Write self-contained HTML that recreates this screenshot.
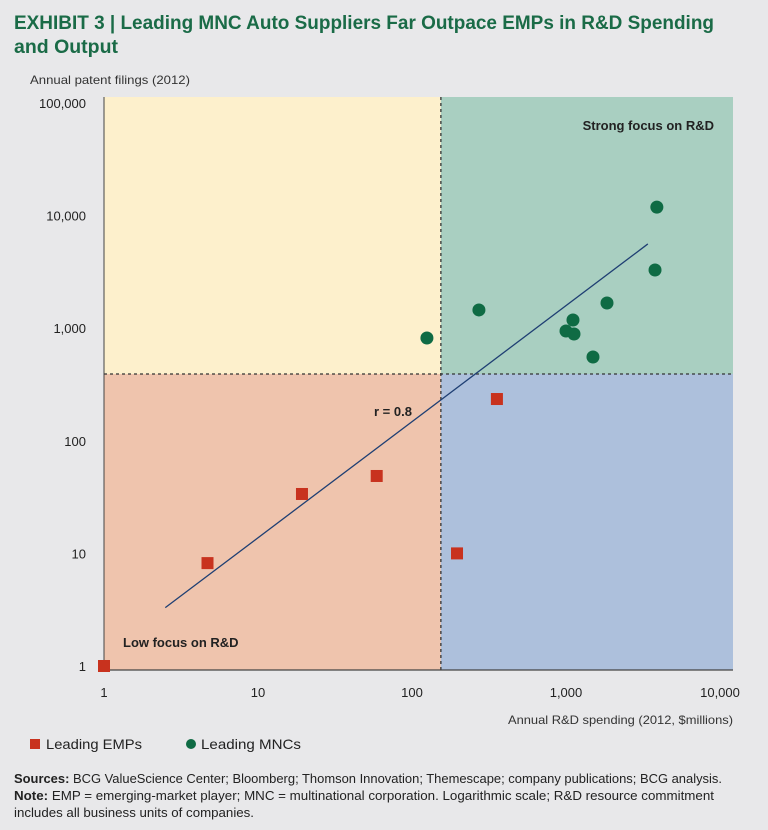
<!DOCTYPE html>
<html><head><meta charset="utf-8"><style>
html,body{margin:0;padding:0;background:#e8e8ea;}
svg{display:block;font-family:"Liberation Sans",sans-serif;}
</style></head><body>
<svg id="chart" width="768" height="830" viewBox="0 0 768 830">
<rect width="768" height="830" fill="#e8e8ea"/>
<text x="14" y="29" font-size="19" font-weight="bold" fill="#1a6b47" textLength="700" lengthAdjust="spacingAndGlyphs">EXHIBIT 3 | Leading MNC Auto Suppliers Far Outpace EMPs in R&amp;D Spending</text>
<text x="14" y="53" font-size="19" font-weight="bold" fill="#1a6b47" textLength="104" lengthAdjust="spacingAndGlyphs">and Output</text>
<text x="30" y="84" font-size="12" fill="#333" textLength="160" lengthAdjust="spacingAndGlyphs">Annual patent filings (2012)</text>
<text x="733" y="724" font-size="12" fill="#333" text-anchor="end" textLength="225" lengthAdjust="spacingAndGlyphs">Annual R&amp;D spending (2012, $millions)</text>
<g id="plot"></g>
<rect x="30" y="739" width="10" height="10" fill="#c8321e"/>
<text x="46" y="749" font-size="14" fill="#222" textLength="96" lengthAdjust="spacingAndGlyphs">Leading EMPs</text>
<circle cx="191" cy="744" r="5" fill="#0f6b44"/>
<text x="201" y="749" font-size="14" fill="#222" textLength="100" lengthAdjust="spacingAndGlyphs">Leading MNCs</text>
<text x="14" y="783" font-size="12.5" fill="#222" textLength="708" lengthAdjust="spacingAndGlyphs"><tspan font-weight="bold">Sources:</tspan> BCG ValueScience Center; Bloomberg; Thomson Innovation; Themescape; company publications; BCG analysis.</text>
<text x="14" y="800" font-size="12.5" fill="#222" textLength="700" lengthAdjust="spacingAndGlyphs"><tspan font-weight="bold">Note:</tspan> EMP = emerging-market player; MNC = multinational corporation. Logarithmic scale; R&amp;D resource commitment</text>
<text x="14" y="817" font-size="12.5" fill="#222" textLength="240" lengthAdjust="spacingAndGlyphs">includes all business units of companies.</text>
</svg>
<script>
const xTicks = [1, 10, 100, 1000, 10000];
const xTickLabels = ["1", "10", "100", "1,000", "10,000"];
const yTicks = [1, 10, 100, 1000, 10000, 100000];
const yTickLabels = ["1", "10", "100", "1,000", "10,000", "100,000"];
const empSpend = [1, 4.7, 19.3, 59, 196, 356];
const empPatents = [1, 8.2, 33.7, 48.7, 10, 235];
const mncSpend = [125, 272, 1000, 1110, 1127, 1497, 1846, 3785, 3890];
const mncPatents = [818, 1452, 944, 1183, 888, 555, 1675, 3289, 11900];
const trendX = [2.5, 3400];
const trendY = [3.3, 5600];
const xDivider = 154;
const yDivider = 392;

const NS = "http://www.w3.org/2000/svg";
const L = 104, R = 720, T = 103, B = 666, PR = 733, PT = 97, PB = 670;
function xs(v){ return L + Math.log10(v) / 4 * (R - L); }
function ys(v){ return B - Math.log10(v) / 5 * (B - T); }
const g = document.getElementById("plot");
function mk(tag, attrs){ const e = document.createElementNS(NS, tag); for (const k in attrs) e.setAttribute(k, attrs[k]); g.appendChild(e); return e; }

const xd = xs(xDivider), yd = ys(yDivider);
let q;
q = mk("rect", {x: L, y: PT, width: xd - L, height: yd - PT, fill: "#fdf0cc"});


q = mk("rect", {x: xd, y: PT, width: PR - xd, height: yd - PT, fill: "#a9cfc1"});


q = mk("rect", {x: L, y: yd, width: xd - L, height: PB - yd, fill: "#efc4ad"});


q = mk("rect", {x: xd, y: yd, width: PR - xd, height: PB - yd, fill: "#adc0dc"});



q = mk("line", {x1: xd, y1: PT, x2: xd, y2: PB, stroke: "#333", "stroke-width": 1.3, "stroke-dasharray": "3,3"});


q = mk("line", {x1: L, y1: yd, x2: PR, y2: yd, stroke: "#333", "stroke-width": 1.3, "stroke-dasharray": "3,3"});



q = mk("line", {x1: L, y1: PT, x2: L, y2: PB, stroke: "#444", "stroke-width": 1});


q = mk("line", {x1: L, y1: PB, x2: PR, y2: PB, stroke: "#444", "stroke-width": 1.2});



xTicks.forEach((v, i) => {
  const t = mk("text", {x: xs(v), y: 697, "font-size": 13, fill: "#222", "text-anchor": "middle"});
  t.textContent = xTickLabels[i];
  
  
});
yTicks.forEach((v, i) => {
  const t = mk("text", {x: 86, y: ys(v) + 5, "font-size": 13, fill: "#222", "text-anchor": "end"});
  t.textContent = yTickLabels[i];
  
  
});

let t = mk("text", {x: 714, y: 130, "font-size": 13, "font-weight": "bold", fill: "#222", "text-anchor": "end"});
t.textContent = "Strong focus on R&D";


t = mk("text", {x: 123, y: 647, "font-size": 13, "font-weight": "bold", fill: "#222"});
t.textContent = "Low focus on R&D";


t = mk("text", {x: 374, y: 416, "font-size": 13, "font-weight": "bold", fill: "#222"});
t.textContent = "r = 0.8";



q = mk("line", {x1: xs(trendX[0]), y1: ys(trendY[0]), x2: xs(trendX[1]), y2: ys(trendY[1]), stroke: "#1f3f73", "stroke-width": 1.3});



empSpend.forEach((v, i) => {
  const r = mk("rect", {x: xs(v) - 6, y: ys(empPatents[i]) - 6, width: 12, height: 12, fill: "#c8321e"});
  
  
});
mncSpend.forEach((v, i) => {
  const c = mk("circle", {cx: xs(v), cy: ys(mncPatents[i]), r: 6.5, fill: "#0f6b44"});
  
  
});
</script>
</body></html>
